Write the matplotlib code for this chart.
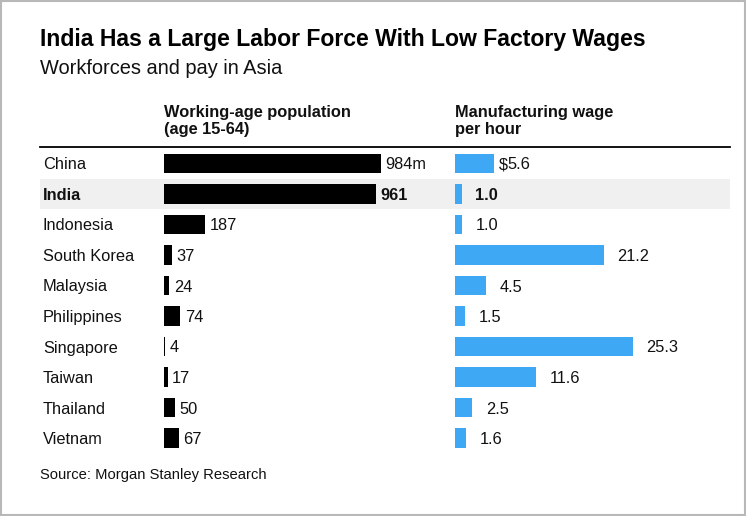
import matplotlib
matplotlib.use("Agg")
import matplotlib.pyplot as plt
from matplotlib.patches import Rectangle
from matplotlib.lines import Line2D

plt.rcParams['font.family'] = ['Liberation Sans', 'DejaVu Sans']

countries = ["China", "India", "Indonesia", "South Korea", "Malaysia",
             "Philippines", "Singapore", "Taiwan", "Thailand", "Vietnam"]
population = [984, 961, 187, 37, 24, 74, 4, 17, 50, 67]
wages = [5.6, 1.0, 1.0, 21.2, 4.5, 1.5, 25.3, 11.6, 2.5, 1.6]
highlight = "India"

W, H = 746, 516
fig = plt.figure(figsize=(W / 100, H / 100), dpi=100)
fig.patch.set_facecolor("white")

def fx(x):
    return x / W

def fy(y):
    return 1 - y / H

BLUE = "#3ea8f5"
TXT = "#111111"
FS = 11.8

# rows: first row centre at 163.7 px, spacing 30.5 px
row0, step = 163.7, 30.5
n = len(countries)
top = row0 - step / 2
bottom = row0 + step * (n - 0.5)

# background axes for highlight band (full width)
bg = fig.add_axes([0, fy(bottom), 1, (bottom - top) / H], zorder=0)
bg.set_xlim(0, W)
bg.set_ylim(n - 0.5, -0.5)
bg.axis("off")
hi = countries.index(highlight)
bg.axhspan(hi - 0.5, hi + 0.5, xmin=fx(40), xmax=fx(730), color="#f0f0f0", lw=0)

# left: population bars
pop_scale = 217 / 984  # px per unit
ax1_w = 270
ax1 = fig.add_axes([fx(164), fy(bottom), ax1_w / W, (bottom - top) / H], zorder=1)
ax1.barh(range(n), population, height=0.64, color="black")
ax1.set_xlim(0, ax1_w / pop_scale)
ax1.set_ylim(n - 0.5, -0.5)
ax1.axis("off")

# right: wage bars
wage_scale = 7.04
ax2_w = 275
ax2 = fig.add_axes([fx(454.5), fy(bottom), ax2_w / W, (bottom - top) / H], zorder=1)
ax2.barh(range(n), wages, height=0.64, color=BLUE)
ax2.set_xlim(0, ax2_w / wage_scale)
ax2.set_ylim(n - 0.5, -0.5)
ax2.axis("off")

for i, c in enumerate(countries):
    wt = "bold" if c == highlight else "normal"
    bg.annotate(c, (43, i), xytext=(0, -5.8), textcoords="offset pixels",
                va="baseline", ha="left", fontsize=FS, color=TXT, fontweight=wt)
    plab = f"{population[i]}m" if i == 0 else f"{population[i]}"
    ax1.annotate(plab, (population[i], i), xytext=(4.5, -5.8), textcoords="offset pixels",
                 va="baseline", ha="left", fontsize=FS, color=TXT, fontweight=wt)
    ax2.annotate(f"{wages[i]:.1f}", (wages[i], i), xytext=(13.8, -5.8), textcoords="offset pixels",
                 va="baseline", ha="left", fontsize=FS, color=TXT, fontweight=wt)
    if i == 0:
        ax2.annotate("$", (wages[i], i), xytext=(13.8, -5.8), textcoords="offset pixels",
                     va="baseline", ha="right", fontsize=FS, color=TXT)

# titles
fig.text(fx(40), fy(45.7), "India Has a Large Labor Force With Low Factory Wages",
         fontsize=16.6, fontweight="bold", color="black", va="baseline", ha="left")
fig.text(fx(40), fy(74), "Workforces and pay in Asia",
         fontsize=14.4, color=TXT, va="baseline", ha="left")

# column headers
fig.text(fx(164), fy(116.7), "Working-age population", fontsize=FS, fontweight="bold",
         color=TXT, va="baseline")
fig.text(fx(164), fy(134.0), "(age 15-64)", fontsize=FS, fontweight="bold",
         color=TXT, va="baseline")
fig.text(fx(455), fy(116.7), "Manufacturing wage", fontsize=FS, fontweight="bold",
         color=TXT, va="baseline")
fig.text(fx(455), fy(134.0), "per hour", fontsize=FS, fontweight="bold",
         color=TXT, va="baseline")

fig.add_artist(Line2D([fx(40), fx(730)], [fy(146.8), fy(146.8)], color="black", lw=1.3))

fig.text(fx(40), fy(479.3), "Source: Morgan Stanley Research", fontsize=10.6,
         color=TXT, va="baseline")

# outer frame
fig.add_artist(Rectangle((fx(1), fy(515)), fx(744), (514) / H, fill=False,
                         edgecolor="#b8b8b8", lw=1.5, transform=fig.transFigure))

fig.savefig("out.png", dpi=100)
